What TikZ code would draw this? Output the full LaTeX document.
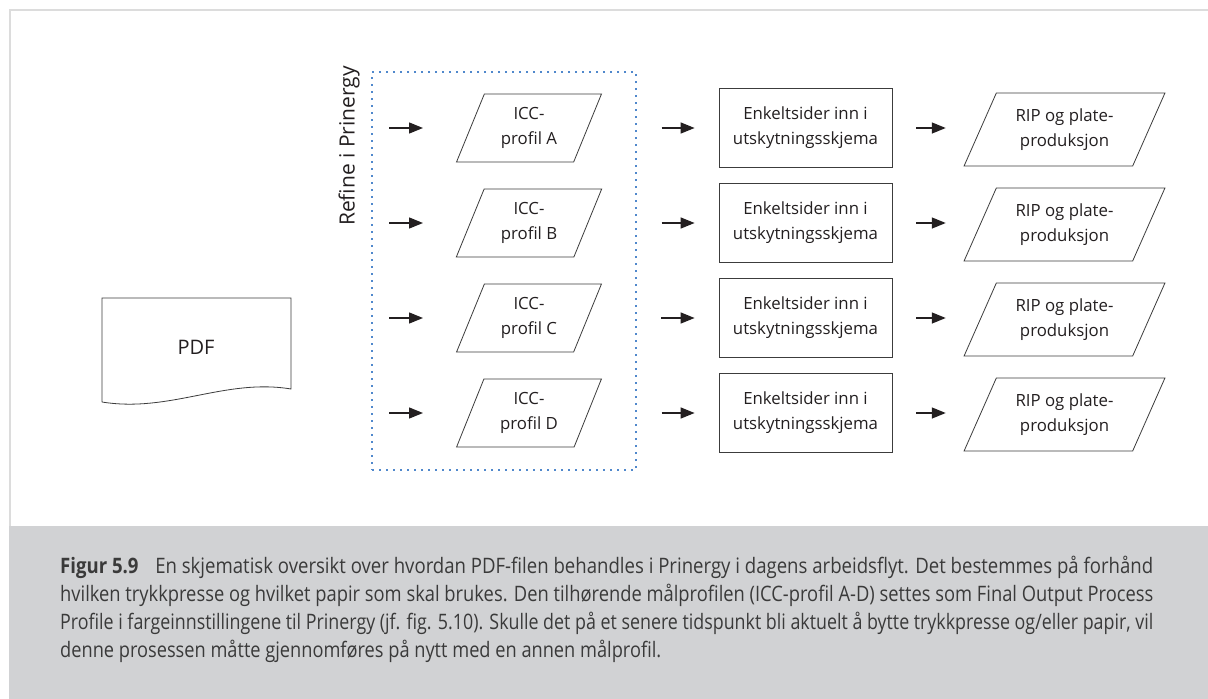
\documentclass[tikz,border=0pt]{standalone}
\usepackage{graphicx}
\usepackage{fontspec}
\setmainfont{Open Sans}
\usetikzlibrary{arrows.meta,shapes.geometric}
\definecolor{frameline}{HTML}{DCDCDC}
\definecolor{capbg}{HTML}{D1D2D4}
\definecolor{captext}{HTML}{3A3A3A}
\definecolor{ink}{HTML}{231F20}
\definecolor{shapeline}{HTML}{3C3C3C}
\definecolor{refineblue}{HTML}{5088CC}
\newcommand\boxfont{\fontsize{16.8pt}{25pt}\selectfont}
\newcommand\pdffont{\fontsize{20pt}{24pt}\selectfont}
\newcommand\labelfont{\fontsize{21pt}{25pt}\selectfont}
\newcommand\capfont{\fontsize{21.3pt}{28pt}\selectfont}
% set a caption line to an exact width, keeping its height
\newcommand\capline[2]{\resizebox{#1}{\height}{#2}}
\tikzset{
  shapetext/.style={font=\boxfont, text=ink, align=center},
  profilebox/.style={shapetext, trapezium, draw=shapeline, line width=0.8pt,
    trapezium stretches=true, trapezium left angle=67, trapezium right angle=113,
    minimum width=146pt, minimum height=68pt, inner sep=0pt},
  ripbox/.style={shapetext, trapezium, draw=shapeline, line width=0.8pt,
    trapezium stretches=true, trapezium left angle=61, trapezium right angle=119,
    minimum width=201pt, minimum height=73pt, inner sep=0pt},
  stepbox/.style={shapetext, rectangle, draw=shapeline, line width=0.8pt,
    minimum width=173pt, minimum height=79pt, inner sep=0pt},
  flow/.style={draw=ink, line width=1.4pt, -{Triangle[length=14pt,width=11pt]}},
  captionline/.style={anchor=base west, inner sep=0pt, font=\capfont, text=captext},
}
\begin{document}
\begin{tikzpicture}[x=1pt,y=-1pt]
\useasboundingbox (0,0) rectangle (1208,699);
% page frame and caption band
\fill[white] (0,0) rectangle (1208,699);
\fill[capbg] (9,526) rectangle (1208,699);
\draw[frameline, line width=2pt] (10,526) -- (10,10) -- (1208,10);

% source document
\node[font=\pdffont, text=ink] (pdf) at (196,347) {PDF};
\draw[shapeline, line width=0.8pt] (102,402) -- (102,298) -- (291,298) -- (291,389)
  .. controls (225,378) and (170,413) .. (102,402);

% Refine group
\node[draw=refineblue, line width=1.2pt, dash pattern=on 2pt off 5pt,
      minimum width=264pt, minimum height=398pt, inner sep=0pt] (refine) at (504,271) {};
\node[font=\labelfont, text=ink, rotate=90] (refinelabel) at (349,146) {Refine i Prinergy};

\foreach \r/\y in {A/128, B/223, C/318, D/413}{
  \coordinate (in\r) at (389,\y);
  \coordinate (inend\r) at (423,\y);
  \node[profilebox] (icc\r) at (529,\y) {ICC-\\profil \r};
  \node[stepbox] (imp\r) at (805.5,\y) {Enkeltsider inn i\\utskytningsskjema};
  \node[ripbox] (rip\r) at (1064.5,\y+1.5) {RIP og plate-\\produksjon};
  \draw[flow] (in\r) -- (inend\r);
  \draw[flow, shorten <=73.5pt, shorten >=24pt] (icc\r.center -| icc\r.east) -- (imp\r.west);
  \draw[flow, shorten <=24pt, shorten >=34pt] (imp\r.east) -- (imp\r.east -| rip\r.west);
}

% caption, one line per node
\node[captionline] (cap1) at (60,573)
  {\capline{1093pt}{\textbf{Figur 5.9}\hspace{0.9em}En skjematisk oversikt over hvordan PDF-filen behandles i Prinergy i dagens arbeidsflyt. Det bestemmes på forhånd}};
\node[captionline] (cap2) at (60,601)
  {\capline{1093pt}{hvilken trykkpresse og hvilket papir som skal brukes. Den tilhørende målprofilen (ICC-profil A-D) settes som Final Output Process}};
\node[captionline] (cap3) at (60,629)
  {\capline{1093pt}{Profile i fargeinnstillingene til Prinergy (jf. fig. 5.10). Skulle det på et senere tidspunkt bli aktuelt å bytte trykkpresse og/eller papir, vil}};
\node[captionline] (cap4) at (60,657)
  {\capline{601pt}{denne prosessen måtte gjennomføres på nytt med en annen målprofil.}};
\end{tikzpicture}
\end{document}
